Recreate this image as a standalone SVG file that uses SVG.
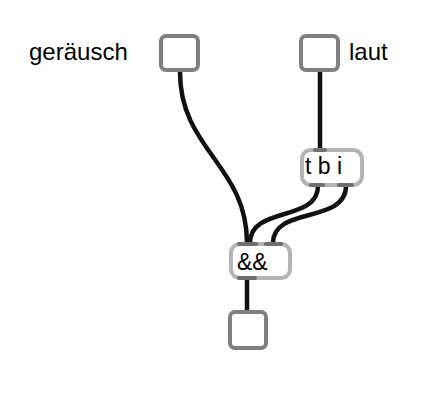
<svg xmlns="http://www.w3.org/2000/svg" width="442" height="406" viewBox="0 0 442 406">
<style>
.io{fill:#fff;stroke:#808080;stroke-width:4}
.obj{fill:#fff;stroke:#b4b4b4;stroke-width:4}
.port{stroke:#6e6e6e;stroke-width:4;stroke-linecap:round}
.cord{fill:none;stroke:#111;stroke-width:4.5;stroke-linecap:round}
.lbl{font-family:"Liberation Sans",Arial,sans-serif;font-size:24px;fill:#000}
.otxt{font-family:"Liberation Sans",Arial,sans-serif;font-size:23px;fill:#000}
</style>
<rect width="442" height="406" fill="#fff"/>
<g id="connectors">
<path class="cord" d="M180,72 C180,150 247,165 247,243"/>
<path class="cord" d="M320,72 L320,150"/>
<path class="cord" d="M318,186 C318,222 250,206 250,243"/>
<path class="cord" d="M346,186 C346,224 273,206 273,243"/>
<path class="cord" d="M247,280 L247,310"/>
</g>
<g id="label-geraeusch"><text class="lbl" x="29" y="60">geräusch</text></g>
<g id="label-laut"><text class="lbl" x="349" y="60">laut</text></g>
<g id="inlet-geraeusch"><rect class="io" x="161" y="36" width="37" height="34" rx="5"/></g>
<g id="inlet-laut"><rect class="io" x="301" y="36" width="37" height="34" rx="5"/></g>
<g id="obj-tbi">
<rect class="obj" x="302" y="150" width="60" height="35" rx="9"/>
<line class="port" x1="315" y1="150" x2="325" y2="150"/>
<line class="port" x1="311" y1="185" x2="323" y2="185"/>
<line class="port" x1="339" y1="185" x2="352" y2="185"/>
<text class="otxt" x="305" y="174">t b i</text>
</g>
<g id="obj-and">
<rect class="obj" x="231" y="244" width="59" height="34" rx="9"/>
<line class="port" x1="239" y1="244" x2="256" y2="244"/>
<line class="port" x1="266" y1="244" x2="281" y2="244"/>
<line class="port" x1="239" y1="278" x2="255" y2="278"/>
<text class="otxt" x="237" y="270">&amp;&amp;</text>
</g>
<g id="outlet"><rect class="io" x="230" y="312" width="36" height="36" rx="5"/></g>
</svg>
